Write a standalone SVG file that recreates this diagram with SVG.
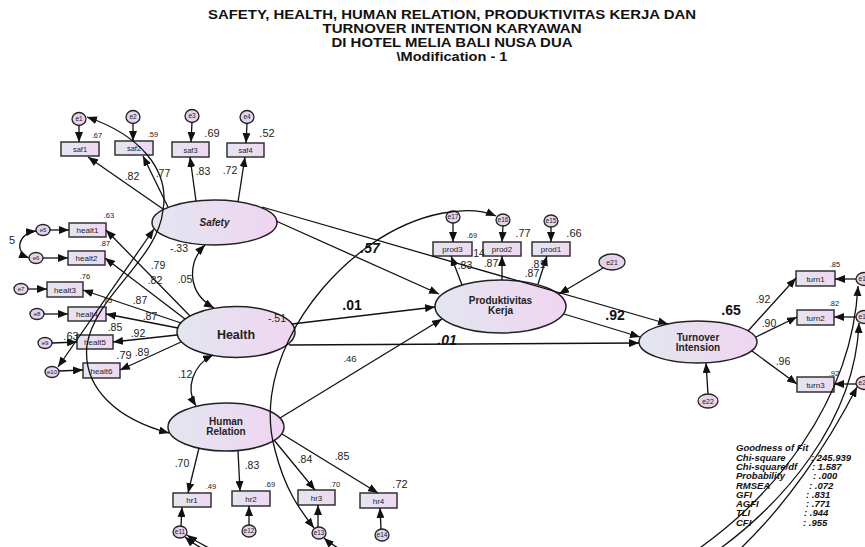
<svg xmlns="http://www.w3.org/2000/svg" width="865" height="547" viewBox="0 0 865 547">
<defs>
<linearGradient id="gl" x1="0" y1="0" x2="1" y2="0"><stop offset="0" stop-color="#e2e6f0"/><stop offset="1" stop-color="#f0d5f1"/></linearGradient>
<linearGradient id="gb" x1="0" y1="0" x2="1" y2="0"><stop offset="0" stop-color="#e4e5f0"/><stop offset="1" stop-color="#eed8f2"/></linearGradient>
<linearGradient id="ge" x1="0" y1="0" x2="1" y2="0"><stop offset="0" stop-color="#ddd2e8"/><stop offset="1" stop-color="#ecd4ef"/></linearGradient>
<marker id="ah" viewBox="0 0 10 8" refX="10" refY="4" markerWidth="10" markerHeight="8" markerUnits="userSpaceOnUse" orient="auto-start-reverse"><path d="M0,0 L10,4 L0,8 z" fill="#111"/></marker>
<style>
.c{fill:none;stroke:#111;stroke-width:1.3}
.a{marker-end:url(#ah)}
.d{marker-start:url(#ah);marker-end:url(#ah)}
.box{fill:url(#gb);stroke:#333;stroke-width:1.5}
.lat{fill:url(#gl);stroke:#222;stroke-width:1.5}
.err{fill:url(#ge);stroke:#222;stroke-width:1.3}
text{font-family:"Liberation Sans",Arial,sans-serif;fill:#222}
.t{font-size:12px;font-weight:bold;text-anchor:middle;fill:#111}
.bl{font-size:8px;text-anchor:middle}
.el{font-size:6.5px;text-anchor:middle}
.ln{font-size:10px;font-weight:bold;text-anchor:middle}
.s{font-size:7.5px;text-anchor:middle}
.L{font-size:11px;text-anchor:middle}
.p{font-size:10.5px;text-anchor:middle}
.B{font-size:14px;font-weight:bold;text-anchor:middle;fill:#111}
.g{font-size:9.5px;font-weight:bold;font-style:italic;fill:#111}
</style>
</defs>
<g id="title">
<text class="t" x="452" y="19" textLength="488" lengthAdjust="spacingAndGlyphs">SAFETY, HEALTH, HUMAN RELATION, PRODUKTIVITAS KERJA DAN</text>
<text class="t" x="452" y="33" textLength="259" lengthAdjust="spacingAndGlyphs">TURNOVER INTENTION KARYAWAN</text>
<text class="t" x="452" y="47" textLength="241" lengthAdjust="spacingAndGlyphs">DI HOTEL MELIA BALI NUSA DUA</text>
<text class="t" x="452" y="61" textLength="111" lengthAdjust="spacingAndGlyphs">\Modification - 1</text>
</g>
<g id="Safety"><ellipse class="lat" cx="214.5" cy="222.5" rx="62.5" ry="22.5"/><text class="ln" x="214.5" y="226" font-style="italic">Safety</text></g>
<g id="Health"><ellipse class="lat" cx="236" cy="332" rx="59" ry="25.5"/><text class="ln" x="236" y="339" style="font-size:12.5px">Health</text></g>
<g id="HumanRelation"><ellipse class="lat" cx="226" cy="427" rx="58" ry="24"/><text class="ln" x="226" y="424.5">Human</text><text class="ln" x="226" y="434.5">Relation</text></g>
<g id="Produktivitas"><ellipse class="lat" cx="500.5" cy="306.5" rx="65.5" ry="26.5"/><text class="ln" x="500.5" y="304.3">Produktivitas</text><text class="ln" x="500.5" y="313.8">Kerja</text></g>
<g id="Turnover"><ellipse class="lat" cx="698" cy="342" rx="59" ry="21"/><text class="ln" x="698" y="341.3">Turnover</text><text class="ln" x="698" y="350.5">Intension</text></g>
<g id="saf1"><rect class="box" x="61" y="142" width="38" height="14"/><text class="bl" x="80" y="152" style="font-size:7.5px">saf1</text></g>
<g id="saf2"><rect class="box" x="115" y="141" width="38" height="14"/><text class="bl" x="134" y="151" style="font-size:7.5px">saf2</text></g>
<g id="saf3"><rect class="box" x="172" y="142" width="37" height="15"/><text class="bl" x="190.5" y="152.5" style="font-size:7.5px">saf3</text></g>
<g id="saf4"><rect class="box" x="227" y="143" width="37" height="14"/><text class="bl" x="245.5" y="153" style="font-size:7.5px">saf4</text></g>
<g id="healt1"><rect class="box" x="69" y="223" width="37" height="14"/><text class="bl" x="87.5" y="233">healt1</text></g>
<g id="healt2"><rect class="box" x="68" y="251" width="37" height="14"/><text class="bl" x="86.5" y="261">healt2</text></g>
<g id="healt3"><rect class="box" x="47" y="282" width="36" height="15"/><text class="bl" x="65" y="292.5">healt3</text></g>
<g id="healt4"><rect class="box" x="68" y="307" width="38" height="14"/><text class="bl" x="87" y="317">healt4</text></g>
<g id="healt5"><rect class="box" x="77" y="335" width="36" height="14"/><text class="bl" x="95" y="345">healt5</text></g>
<g id="healt6"><rect class="box" x="83" y="363" width="37" height="15"/><text class="bl" x="101.5" y="373.5">healt6</text></g>
<g id="prod3"><rect class="box" x="433" y="242" width="39" height="14"/><text class="bl" x="452.5" y="252">prod3</text></g>
<g id="prod2"><rect class="box" x="483" y="242" width="38" height="14"/><text class="bl" x="502" y="252">prod2</text></g>
<g id="prod1"><rect class="box" x="532" y="242" width="38" height="14"/><text class="bl" x="551" y="252">prod1</text></g>
<g id="turn1"><rect class="box" x="796" y="271" width="39" height="15"/><text class="bl" x="815.5" y="281.5">turn1</text></g>
<g id="turn2"><rect class="box" x="797" y="310" width="37" height="15"/><text class="bl" x="815.5" y="320.5">turn2</text></g>
<g id="turn3"><rect class="box" x="797" y="377" width="37" height="15"/><text class="bl" x="815.5" y="387.5">turn3</text></g>
<g id="hr1"><rect class="box" x="173" y="493" width="38" height="14"/><text class="bl" x="192" y="503">hr1</text></g>
<g id="hr2"><rect class="box" x="232" y="491" width="38" height="15"/><text class="bl" x="251" y="501.5">hr2</text></g>
<g id="hr3"><rect class="box" x="298" y="490" width="37" height="15"/><text class="bl" x="316.5" y="500.5">hr3</text></g>
<g id="hr4"><rect class="box" x="360" y="493" width="37" height="15"/><text class="bl" x="378.5" y="503.5">hr4</text></g>
<g id="e1"><ellipse class="err" cx="79" cy="119" rx="7" ry="6.5"/><text class="el" x="79" y="121.3">e1</text></g>
<g id="e2"><ellipse class="err" cx="133" cy="117" rx="7" ry="6.5"/><text class="el" x="133" y="119.3">e2</text></g>
<g id="e3"><ellipse class="err" cx="192" cy="116" rx="7" ry="6.5"/><text class="el" x="192" y="118.3">e3</text></g>
<g id="e4"><ellipse class="err" cx="247" cy="117" rx="7" ry="6.5"/><text class="el" x="247" y="119.3">e4</text></g>
<g id="e5"><ellipse class="err" cx="43" cy="230" rx="7" ry="5.5"/><text class="el" x="43" y="232.2" style="font-size:6px">e5</text></g>
<g id="e6"><ellipse class="err" cx="36" cy="258" rx="7" ry="5.5"/><text class="el" x="36" y="260.2" style="font-size:6px">e6</text></g>
<g id="e7"><ellipse class="err" cx="21" cy="289" rx="7" ry="5.5"/><text class="el" x="21" y="291.2" style="font-size:6px">e7</text></g>
<g id="e8"><ellipse class="err" cx="37" cy="314" rx="7" ry="5.5"/><text class="el" x="37" y="316.2" style="font-size:6px">e8</text></g>
<g id="e9"><ellipse class="err" cx="45" cy="343" rx="7" ry="5.5"/><text class="el" x="45" y="345.2" style="font-size:6px">e9</text></g>
<g id="e10"><ellipse class="err" cx="52" cy="372" rx="7" ry="5.5"/><text class="el" x="52" y="374.2" style="font-size:6px">e10</text></g>
<g id="e17"><ellipse class="err" cx="453" cy="217" rx="7" ry="6"/><text class="el" x="453" y="219.3">e17</text></g>
<g id="e16"><ellipse class="err" cx="503" cy="220" rx="7" ry="6"/><text class="el" x="503" y="222.3">e16</text></g>
<g id="e15"><ellipse class="err" cx="551" cy="221" rx="7" ry="6"/><text class="el" x="551" y="223.3">e15</text></g>
<g id="e21"><ellipse class="err" cx="612" cy="262" rx="13" ry="8"/><text class="el" x="612" y="264.5" style="font-size:7px">e21</text></g>
<g id="e22"><ellipse class="err" cx="708" cy="401" rx="10" ry="7"/><text class="el" x="708" y="403.5" style="font-size:7px">e22</text></g>
<g id="e18"><ellipse class="err" cx="864" cy="279" rx="8" ry="6.5"/><text class="el" x="864" y="281.3">e18</text></g>
<g id="e19"><ellipse class="err" cx="864" cy="317" rx="8" ry="6.5"/><text class="el" x="864" y="319.3">e19</text></g>
<g id="e20"><ellipse class="err" cx="864" cy="383" rx="8" ry="6.5"/><text class="el" x="864" y="385.3">e20</text></g>
<g id="e11"><ellipse class="err" cx="180" cy="532" rx="7" ry="6"/><text class="el" x="180" y="534.3">e11</text></g>
<g id="e12"><ellipse class="err" cx="249" cy="531" rx="7" ry="6"/><text class="el" x="249" y="533.3">e12</text></g>
<g id="e13"><ellipse class="err" cx="319" cy="533" rx="7" ry="6"/><text class="el" x="319" y="535.3">e13</text></g>
<g id="e14"><ellipse class="err" cx="382" cy="535" rx="7" ry="6"/><text class="el" x="382" y="537.3">e14</text></g>
<g id="connectors" class="c">
<path class="a" d="M163,209 L88,157"/>
<path class="a" d="M168,207 L143,156"/>
<path class="a" d="M196,201 L190,157"/>
<path class="a" d="M238,202 L245,157"/>
<path class="a" d="M79,125.5 L79,142"/>
<path class="a" d="M133,123.5 L133,141"/>
<path class="a" d="M192,122.5 L191,142"/>
<path class="a" d="M247,123.5 L246,143"/>
<path class="a" d="M190,316 L106,230"/>
<path class="a" d="M185,319 L105,258"/>
<path class="a" d="M181,323 L83,290"/>
<path class="a" d="M178,328 L106,314"/>
<path class="a" d="M177,335 L113,342"/>
<path class="a" d="M181,342 L120,370"/>
<path class="a" d="M50,230 L69,230"/>
<path class="a" d="M43,258 L68,258"/>
<path class="a" d="M28,289 L47,289"/>
<path class="a" d="M44,314 L68,314"/>
<path class="a" d="M52,343 L77,342"/>
<path class="a" d="M59,371 L83,370"/>
<path class="d" d="M36,231 C18,233 14,252 29,258"/>
<path class="d" d="M58,367 L154,229"/>
<path class="d" d="M205,245 C188,262 186,292 214,308"/>
<path class="d" d="M213,355 C193,365 185,388 196,406"/>
<path class="d" d="M87,117 C140,135 170,170 163,210 C158,260 95,295 87,345 C82,390 120,420 169,433"/>
<path class="d" d="M496,216 C470,205 420,210 370,245 C300,295 255,380 275,450 C285,490 300,510 314,528"/>
<path class="a" d="M262,207 L668,324"/>
<path class="a" d="M276,221 L439,294"/>
<path class="a" d="M292,324 L435,307"/>
<path class="a" d="M289,345 L639,343"/>
<path class="a" d="M280,418 L442,319"/>
<path class="a" d="M564,314 L640,337"/>
<path class="a" d="M603,268 L559,294"/>
<path class="a" d="M708,394 L706,363"/>
<path class="a" d="M462,285 L451,256"/>
<path class="a" d="M502,280 L502,256"/>
<path class="a" d="M538,284 L547,256"/>
<path class="a" d="M453,223 L453,242"/>
<path class="a" d="M503,226 L502,242"/>
<path class="a" d="M551,227 L551,242"/>
<path class="a" d="M748,331 L796,278"/>
<path class="a" d="M756,337 L797,317"/>
<path class="a" d="M752,351 L797,384"/>
<path class="a" d="M856,279 L835,279"/>
<path class="a" d="M856,317 L834,317"/>
<path class="a" d="M856,384 L834,384"/>
<path class="a" d="M199,448 L188,493"/>
<path class="a" d="M238,451 L240,491"/>
<path class="a" d="M274,440 L315,490"/>
<path class="a" d="M282,434 L378,493"/>
<path class="a" d="M181,526 L182,507"/>
<path class="a" d="M249,525 L249,506"/>
<path class="a" d="M318,527 L318,505"/>
<path class="a" d="M381,529 L380,508"/>
<path class="d" d="M858,286 C852,400 775,500 682,560 C589,620 260,600 185,537"/>
<path class="d" d="M859,323 C855,420 785,505 704,560 C623,615 275,600 187,535"/>
<path class="d" d="M857,387 C830,440 785,510 728,560 C671,610 380,590 324,538"/>
</g>
<g id="labels">
<text class="s" x="97" y="138">.67</text>
<text class="s" x="153" y="137">.59</text>
<text class="s" x="109" y="218">.63</text>
<text class="s" x="105" y="246">.87</text>
<text class="s" x="85" y="279">.76</text>
<text class="s" x="107" y="303">.75</text>
<text class="s" x="472" y="238">.69</text>
<text class="s" x="211" y="489">.49</text>
<text class="s" x="270" y="487">.69</text>
<text class="s" x="335" y="487">.70</text>
<text class="s" x="835" y="267">.85</text>
<text class="s" x="834" y="306">.82</text>
<text class="s" x="834" y="376">.92</text>
<text class="L" x="212" y="137">.69</text>
<text class="L" x="267" y="137">.52</text>
<text class="L" x="71" y="340">.63</text>
<text class="L" x="124" y="359">.79</text>
<text class="L" x="523" y="237">.77</text>
<text class="L" x="574" y="237">.66</text>
<text class="L" x="400" y="488">.72</text>
<text class="L" x="12" y="244">5</text>
<text class="p" x="132" y="180">.82</text>
<text class="p" x="163" y="177">.77</text>
<text class="p" x="203" y="175">.83</text>
<text class="p" x="230" y="174">.72</text>
<text class="p" x="158" y="269">.79</text>
<text class="p" x="155" y="284">.82</text>
<text class="p" x="140" y="304">.87</text>
<text class="p" x="150" y="320">.87</text>
<text class="p" x="115" y="331">.85</text>
<text class="p" x="138" y="337">.92</text>
<text class="p" x="142" y="356">.89</text>
<text class="p" x="179" y="252">-.33</text>
<text class="p" x="185" y="283">.05</text>
<text class="p" x="277" y="322">-.51</text>
<text class="p" x="185" y="378">.12</text>
<text class="p" x="182" y="467">.70</text>
<text class="p" x="252" y="469">.83</text>
<text class="p" x="305" y="463">.84</text>
<text class="p" x="342" y="460">.85</text>
<text class="p" x="465" y="269">.83</text>
<text class="p" x="491" y="267">.87</text>
<text class="p" x="538" y="268">.81</text>
<text class="p" x="532" y="277">.87</text>
<text class="p" x="479" y="257">14</text>
<text class="p" x="763" y="303">.92</text>
<text class="p" x="769" y="327">.90</text>
<text class="p" x="783" y="365">.96</text>
<text class="p" x="350" y="362" style="font-size:9.5px">.46</text>
<text class="B" x="370" y="253" font-style="italic">.57</text>
<text class="B" x="352" y="310">.01</text>
<text class="B" x="447" y="345" font-style="italic">.01</text>
<text class="B" x="615" y="320">.92</text>
<text class="B" x="731" y="315">.65</text>
</g>
<g id="fit">
<text class="g" x="736" y="451">Goodness of Fit</text>
<text class="g" x="736" y="461">Chi-square</text><text class="g" x="811" y="461">: 245.939</text>
<text class="g" x="736" y="470">Chi-square/df</text><text class="g" x="812" y="470">: 1.587</text>
<text class="g" x="736" y="479">Probability</text><text class="g" x="813" y="479">: .000</text>
<text class="g" x="736" y="489">RMSEA</text><text class="g" x="809" y="489">: .072</text>
<text class="g" x="736" y="498">GFI</text><text class="g" x="806" y="498">: .831</text>
<text class="g" x="736" y="507">AGFI</text><text class="g" x="806" y="507">: .771</text>
<text class="g" x="736" y="516">TLI</text><text class="g" x="804" y="516">: .944</text>
<text class="g" x="736" y="526">CFI</text><text class="g" x="803" y="526">: .955</text>
</g>
</svg>
